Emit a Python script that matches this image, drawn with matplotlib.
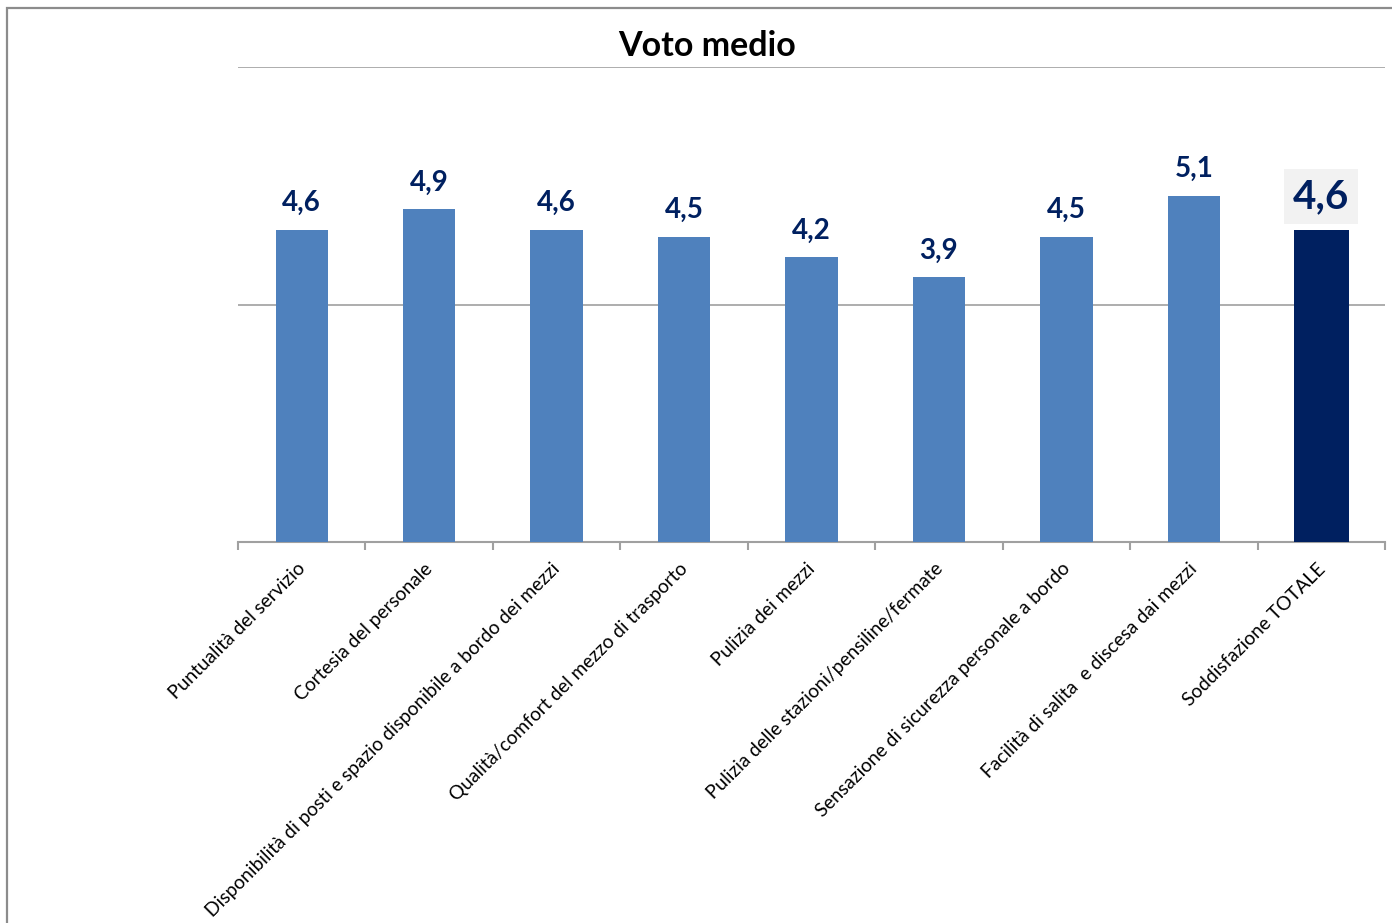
import matplotlib.pyplot as plt
from matplotlib.patches import Rectangle

plt.rcParams['font.family'] = ['Lato', 'DejaVu Sans']

categorie = ['Puntualità del servizio',
             'Cortesia del personale',
             'Disponibilità di posti e spazio disponibile a bordo dei mezzi',
             'Qualità/comfort del mezzo di trasporto',
             'Pulizia dei mezzi',
             'Pulizia delle stazioni/pensiline/fermate',
             'Sensazione di sicurezza personale a bordo',
             'Facilità di salita  e discesa dai mezzi',
             'Soddisfazione TOTALE']
voti = [4.6, 4.9, 4.6, 4.5, 4.2, 3.9, 4.5, 5.1, 4.6]

blu_chiaro = '#4F81BD'
blu_scuro = '#002060'
grigio = '#A0A0A0'

fig = plt.figure(figsize=(13.92, 9.23), dpi=100)
ax = fig.add_axes([238 / 1392, 1 - 542 / 923, (1385 - 238) / 1392, (542 - 67) / 923])

# cornice grigia (solo lati sinistro e superiore visibili)
fig.patches.append(Rectangle((7 / 1392, -0.1), 1.2, 1 - 8 / 923 + 0.1,
                             transform=fig.transFigure, fill=False,
                             edgecolor='#8C8C8C', linewidth=1.6))

x = list(range(len(voti)))
colori = [blu_chiaro] * (len(voti) - 1) + [blu_scuro]
larghezze = [0.41] * (len(voti) - 1) + [0.43]
ax.bar(x, voti, width=larghezze, color=colori, zorder=3)

ax.set_xlim(-0.5, len(voti) - 0.5)
ax.set_ylim(0, 7)
for yv in [3.5, 7]:
    ax.axhline(yv, color=grigio, linewidth=1.2, zorder=1)

for s in ['left', 'right', 'top']:
    ax.spines[s].set_visible(False)
ax.spines['bottom'].set_color(grigio)
ax.spines['bottom'].set_linewidth(1.5)
ax.set_yticks([])

# tacche tra le categorie
ax.set_xticks([i - 0.5 for i in range(len(voti) + 1)], minor=False)
ax.set_xticklabels([])
ax.tick_params(axis='x', which='major', length=6, width=1.5, color=grigio, direction='out')
# etichette ruotate, leggermente spostate a sinistra del centro barra
ax.set_xticks([i - 0.04 for i in x], minor=True)
ax.set_xticklabels(categorie, minor=True, rotation=45, ha='right', va='top',
                   rotation_mode='anchor', fontsize=13.8)
ax.tick_params(axis='x', which='minor', length=0, pad=13)

for i, v in enumerate(voti):
    testo = f'{v:.1f}'.replace('.', ',')
    if i == len(voti) - 1:
        ax.text(i, v + 0.22, testo, ha='center', va='bottom', fontsize=29,
                fontweight='bold', color=blu_scuro,
                bbox=dict(boxstyle='square,pad=0.22', facecolor='#F2F2F2', edgecolor='none'))
    else:
        ax.text(i, v + 0.2, testo, ha='center', va='bottom', fontsize=20,
                fontweight='bold', color=blu_scuro)

fig.text(707 / 1392, 1 - 46 / 923, 'Voto medio', ha='center', va='center',
         fontsize=24.5, fontweight='bold', color='black')

fig.savefig('out.png', dpi=100)
